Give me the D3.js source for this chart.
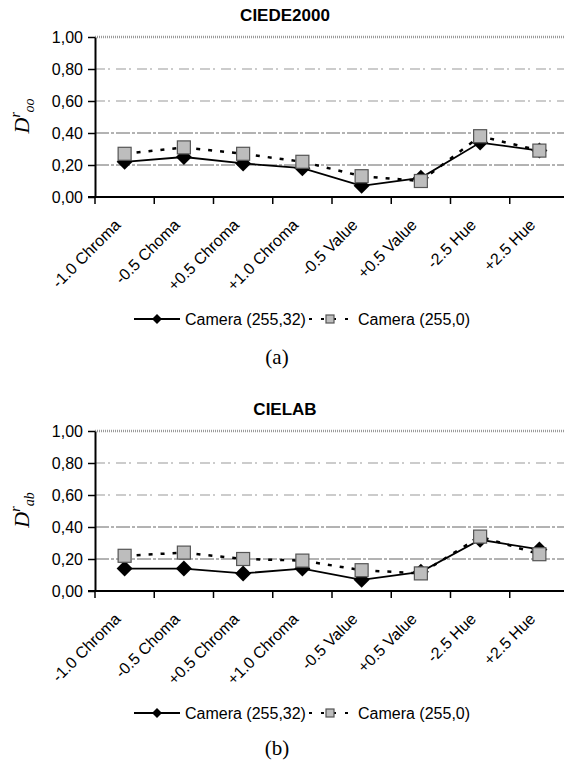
<!DOCTYPE html>
<html>
<head>
<meta charset="utf-8">
<script src="https://cdn.jsdelivr.net/npm/d3@7"></script>
<style>
  body { margin: 0; background: #fff; }
  svg { display: block; }
</style>
</head>
<body>
<svg id="fig" width="564" height="760"></svg>
<script>
// Colour-difference ratios per Munsell shift, two camera settings
const categories = ["-1.0 Chroma", "-0.5 Choma", "+0.5 Chroma", "+1.0 Chroma",
                    "-0.5 Value", "+0.5 Value", "-2.5 Hue", "+2.5 Hue"];
const yTicks = [0, 0.2, 0.4, 0.6, 0.8, 1.0];
const seriesNames = ["Camera (255,32)", "Camera (255,0)"];

const ciede2000Cam32 = [0.22, 0.25, 0.21, 0.18, 0.07, 0.12, 0.34, 0.29];
const ciede2000Cam0  = [0.27, 0.31, 0.27, 0.22, 0.13, 0.10, 0.38, 0.29];
const cielabCam32    = [0.14, 0.14, 0.11, 0.14, 0.07, 0.12, 0.32, 0.26];
const cielabCam0     = [0.22, 0.24, 0.20, 0.19, 0.13, 0.11, 0.34, 0.23];

const SANS = "Liberation Sans, Arial, sans-serif";
const SERIF = "Liberation Serif, Times New Roman, serif";

const svg = d3.select("#fig");
const fmt = v => d3.format(".2f")(v).replace(".", ",");

function diamond(g, x, y, r) {
  g.append("path")
    .attr("d", `M${x},${y - r}L${x + r},${y}L${x},${y + r}L${x - r},${y}Z`)
    .attr("fill", "#000");
}
function square(g, x, y, s) {
  g.append("rect")
    .attr("x", x - s / 2).attr("y", y - s / 2)
    .attr("width", s).attr("height", s)
    .attr("fill", "#bdbdbd").attr("stroke", "#555").attr("stroke-width", 1.2);
}

function panel(cfg) {
  const g = svg.append("g");
  const x = d3.scaleBand().domain(categories).range([95, 569]);
  const y = d3.scaleLinear().domain([0, 1]).range([cfg.y0, cfg.y0 - 160]);

  // title
  g.append("text")
    .attr("x", 285).attr("y", cfg.y0 - 176)
    .attr("text-anchor", "middle")
    .attr("font-family", SANS)
    .attr("font-weight", "bold").attr("font-size", 17)
    .text(cfg.title);

  // horizontal gridlines
  yTicks.filter(t => t > 0).forEach(t => {
    const line = g.append("line")
      .attr("x1", 95).attr("x2", 564)
      .attr("y1", y(t)).attr("y2", y(t));
    if (t === 1) {
      line.attr("stroke", "#9a9a9a").attr("stroke-width", 2.5)
          .attr("stroke-dasharray", "1,1");
    } else if (t <= 0.4) {
      line.attr("stroke", "#666").attr("stroke-width", 1)
          .attr("stroke-dasharray", "14,2,3,2");
    } else {
      line.attr("stroke", "#999").attr("stroke-width", 1)
          .attr("stroke-dasharray", "10,3,2,6");
    }
  });

  // y axis
  const yAxis = d3.axisLeft(y).tickValues(yTicks).tickFormat(fmt)
    .tickSize(7).tickSizeOuter(0).tickPadding(5);
  const ya = g.append("g").attr("transform", "translate(95,0)").call(yAxis);
  ya.select(".domain").attr("stroke", "#000").attr("stroke-width", 2);
  ya.selectAll(".tick line").attr("stroke", "#000").attr("stroke-width", 1.5);
  ya.selectAll("text")
    .attr("font-family", SANS)
    .attr("font-size", 16).attr("fill", "#000");

  // x axis: ticks at category boundaries
  g.append("line")
    .attr("x1", 88).attr("x2", 564)
    .attr("y1", cfg.y0).attr("y2", cfg.y0)
    .attr("stroke", "#000").attr("stroke-width", 2);
  categories.forEach(c => {
    g.append("line")
      .attr("x1", x(c)).attr("x2", x(c))
      .attr("y1", cfg.y0).attr("y2", cfg.y0 + 7)
      .attr("stroke", "#000").attr("stroke-width", 1.5);
  });
  categories.forEach(c => {
    const cx = x(c) + x.bandwidth() / 2;
    g.append("text")
      .attr("transform", `translate(${cx - 3},${cfg.y0 + 29}) rotate(-45)`)
      .attr("text-anchor", "end")
      .attr("font-family", SANS)
      .attr("font-size", 16)
      .text(c);
  });

  // y axis label: D with superscript r and subscript
  const lab = g.append("text")
    .attr("transform", `translate(29,${cfg.y0 - 81}) rotate(-90)`)
    .attr("text-anchor", "middle")
    .attr("font-family", SERIF)
    .attr("font-style", "italic").attr("font-size", 22);
  lab.append("tspan").text("D");
  lab.append("tspan").attr("font-size", 14).attr("dy", -9).text("r");
  lab.append("tspan").attr("font-size", 14).attr("dy", 14).text(cfg.sub);

  const cxOf = (d, i) => x(categories[i]) + x.bandwidth() / 2;
  const line = d3.line().x(cxOf).y(d => y(d));

  g.append("path").datum(cfg.b)
    .attr("d", line).attr("fill", "none")
    .attr("stroke", "#000").attr("stroke-width", 2.5)
    .attr("stroke-dasharray", "4,8");
  g.append("path").datum(cfg.a)
    .attr("d", line).attr("fill", "none")
    .attr("stroke", "#000").attr("stroke-width", 1.8);
  cfg.a.forEach((d, i) => diamond(g, cxOf(d, i), y(d), 8));
  cfg.b.forEach((d, i) => square(g, cxOf(d, i), y(d), 13));

  // legend
  const ly = cfg.legendY;
  g.append("line").attr("x1", 134).attr("x2", 180).attr("y1", ly).attr("y2", ly)
    .attr("stroke", "#000").attr("stroke-width", 2);
  diamond(g, 157, ly, 5);
  g.append("text").attr("x", 185).attr("y", ly + 6)
    .attr("font-family", SANS).attr("font-size", 16)
    .text(seriesNames[0]);
  g.append("line").attr("x1", 309).attr("x2", 351).attr("y1", ly).attr("y2", ly)
    .attr("stroke", "#000").attr("stroke-width", 2).attr("stroke-dasharray", "3,9");
  square(g, 330, ly, 8);
  g.append("text").attr("x", 358).attr("y", ly + 6)
    .attr("font-family", SANS).attr("font-size", 16)
    .text(seriesNames[1]);

  // caption
  g.append("text").attr("x", 277).attr("y", cfg.captionY)
    .attr("text-anchor", "middle")
    .attr("font-family", SERIF)
    .attr("font-size", 21)
    .text(cfg.caption);
}

panel({ title: "CIEDE2000", y0: 197, sub: "oo", a: ciede2000Cam32, b: ciede2000Cam0,
        legendY: 319, captionY: 364, caption: "(a)" });
panel({ title: "CIELAB", y0: 591, sub: "ab", a: cielabCam32, b: cielabCam0,
        legendY: 713, captionY: 755, caption: "(b)" });
</script>
</body>
</html>
